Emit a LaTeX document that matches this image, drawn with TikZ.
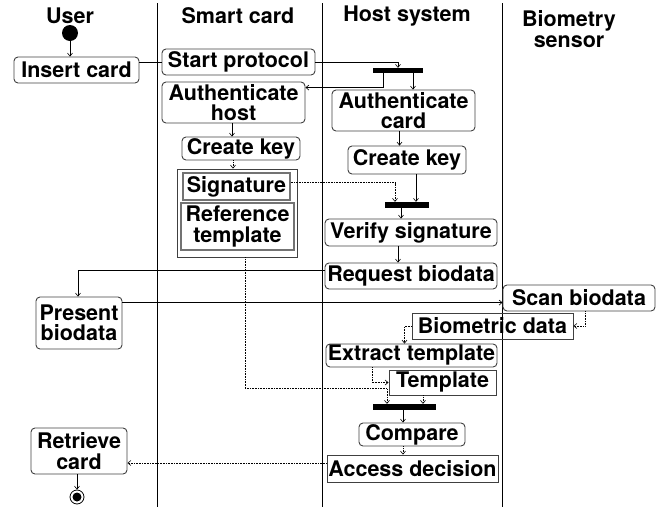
\documentclass[tikz,border=0pt]{standalone}
\usepackage{fontspec}
\setmainfont{TeX Gyre Heros}
\usetikzlibrary{arrows.meta,calc}
\newcommand\actfont{\fontsize{21.5}{20.5}\selectfont\bfseries}
\tikzset{
  lane/.style={line width=0.8pt},
  act/.style={draw=black!75, line width=0.9pt, rounded corners=4pt, inner sep=0pt, align=center, font=\actfont},
  obj/.style={draw=black!75, line width=0.9pt, inner sep=0pt, align=center, font=\actfont},
  objd/.style={draw=black!55, line width=1.5pt, inner sep=0pt, align=center, font=\actfont},
  hdr/.style={inner sep=0pt, align=center, font=\actfont},
  forkbar/.style={fill=black, draw=none, inner sep=0pt},
  arr/.style={-{Straight Barb[length=3pt,width=5pt]}, line width=0.6pt},
  darr/.style={arr, densely dotted},
  ln/.style={line width=0.6pt},
}
\begin{document}
\begin{tikzpicture}[x=1pt,y=-1pt]
\useasboundingbox (0,0) rectangle (665,507);
% lanes
\draw[lane] (157,3) -- (157,507);
\draw[lane] (322,3) -- (322,507);
\draw[lane] (502,3) -- (502,507);
% headers
\node[hdr] (hu) at (70,16) {User};
\node[hdr] (hs) at (238,16) {Smart card};
\node[hdr] (hh) at (407,16) {Host system};
\node[hdr] (hb) at (569,29) {Biometry\\sensor};
% start / end
\node[circle, fill=black, minimum size=16pt, inner sep=0pt] (start) at (70,33) {};
\node[circle, draw=black, line width=0.8pt, minimum size=14pt, inner sep=0pt] (end) at (77,497) {};
\fill (end) circle (4.5pt);
% activities
\node[act, minimum width=125pt, minimum height=26pt] (insert) at (76.5,70) {Insert card};
\node[act, minimum width=153pt, minimum height=26pt] (startp) at (238.5,62) {Start protocol};
\node[act, minimum width=143pt, minimum height=41pt] (authhost) at (233.5,102.5) {Authenticate\\host};
\node[act, minimum width=143pt, minimum height=41pt] (authcard) at (403.5,110.5) {Authenticate\\card};
\node[act, minimum width=118pt, minimum height=23pt] (ckcard) at (241,148.5) {Create key};
\node[act, minimum width=118pt, minimum height=28pt] (ckhost) at (407,160) {Create key};
\node[obj, minimum width=120pt, minimum height=88pt] (container) at (237,213) {};
\node[objd, minimum width=107pt, minimum height=27pt] (signature) at (236.5,186.5) {Signature};
\node[objd, minimum width=113pt, minimum height=47pt] (reftemp) at (237.5,226.5) {Reference\\template};
\node[act, minimum width=172pt, minimum height=27pt] (verify) at (411,232.5) {Verify signature};
\node[act, minimum width=172pt, minimum height=26pt] (request) at (411,276) {Request biodata};
\node[act, minimum width=86pt, minimum height=52pt] (present) at (79,323) {Present\\biodata};
\node[act, minimum width=152pt, minimum height=26pt] (scan) at (579,298) {Scan biodata};
\node[obj, minimum width=161pt, minimum height=26pt] (biometric) at (492.5,326) {Biometric data};
\node[act, minimum width=171pt, minimum height=23pt] (extract) at (411.5,355.5) {Extract template};
\node[obj, minimum width=107pt, minimum height=25pt] (template) at (442.5,382.5) {Template};
\node[act, minimum width=106pt, minimum height=23pt] (compare) at (412,434.5) {Compare};
\node[obj, minimum width=171pt, minimum height=27pt] (access) at (412.5,468.5) {Access decision};
\node[act, minimum width=96pt, minimum height=46pt] (retrieve) at (79,451) {Retrieve\\card};
% fork / join bars
\node[forkbar, minimum width=50pt, minimum height=5pt] (bar1) at (398,70.5) {};
\node[forkbar, minimum width=44pt, minimum height=6pt] (bar2) at (407,205) {};
\node[forkbar, minimum width=63pt, minimum height=6pt] (bar3) at (404.5,407) {};
% connectors
\draw[arr] (start.south) -- (start.south |- insert.north);
\draw[ln] (insert.east |- startp.west) -- (startp.west);
\draw[arr] (startp.east) -| (bar1.north);
\draw[arr] ([xshift=-15pt]bar1.south) |- ($(authhost.north east)+(0,6)$);
\draw[arr] ([xshift=15pt]bar1.south) coordinate (b1r) -- (b1r |- authcard.north);
\draw[arr] ([xshift=-4pt]authcard.south) coordinate (acs) -- (acs |- ckhost.north);
\draw[arr] ([xshift=-1.5pt]authhost.south) coordinate (ahs) -- (ahs |- ckcard.north);
\draw[darr] ([xshift=-8pt]ckcard.south) coordinate (cks) -- (cks |- container.north);
\draw[darr] ($(signature.east)+(0,-4)$) -| ([xshift=-12pt]bar2.north);
\draw[arr] ([xshift=9pt]ckhost.south) coordinate (khs) -- (khs |- bar2.north);
\draw[arr] ([xshift=-6pt]bar2.south) coordinate (b2s) -- (b2s |- verify.north);
\draw[arr] ([xshift=-13pt]verify.south) coordinate (vs) -- (vs |- request.north);
\draw[arr] ($(request.west)+(0,-6)$) -| ([xshift=-1pt]present.north);
\draw[arr] ($(present.north east)+(0,6)$) coordinate (pe) -- (pe -| scan.west);
\draw[darr] ([xshift=6pt]scan.south) |- (biometric.east);
\draw[darr] (biometric.west) -| ([xshift=-7pt]extract.north);
\draw[darr] ([xshift=-39.5pt]extract.south) |- (template.west);
\draw[darr] ([xshift=8pt]container.south) -- ++(0,131) -| ([xshift=-17.5pt]bar3.north);
\draw[darr] ([xshift=-19.5pt]template.south) coordinate (ts) -- (ts |- bar3.north);
\draw[arr] ([xshift=-1.5pt]bar3.south) coordinate (b3s) -- (b3s |- compare.north);
\draw[darr] ([xshift=-9pt]compare.south) coordinate (cs) -- (cs |- access.north);
\draw[darr] ($(access.west)+(0,-5.5)$) coordinate (aw) -- (aw -| retrieve.east);
\draw[arr] (retrieve.south -| end) -- (end.north);
\end{tikzpicture}
\end{document}
